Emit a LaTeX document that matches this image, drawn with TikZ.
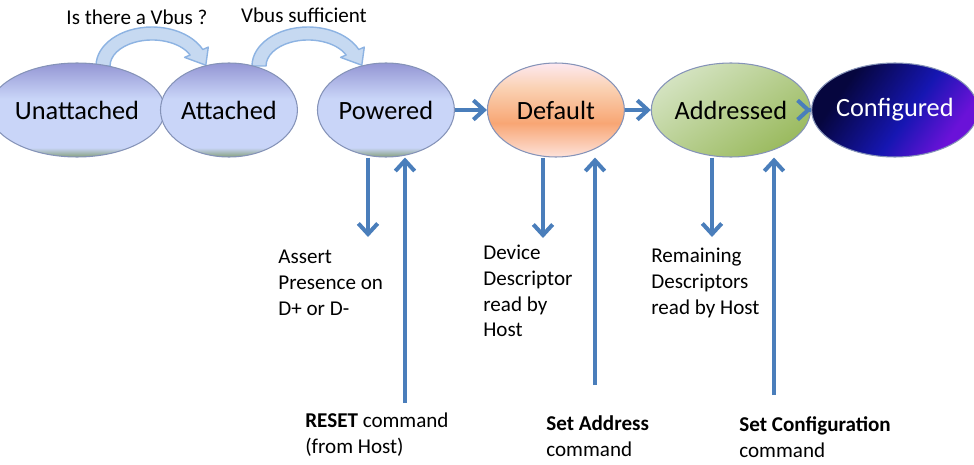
\documentclass[tikz,border=0pt]{standalone}
\usepackage{fontspec}
\setmainfont{Carlito}
\usetikzlibrary{shapes.geometric, positioning, arrows.meta}

\definecolor{flowblue}{HTML}{4A7EBB}
\definecolor{bendfill}{HTML}{C6D9F1}
\definecolor{bendline}{HTML}{8DB3E2}
\definecolor{stline}{HTML}{8593B8}
\definecolor{sttop}{HTML}{9496D4}
\definecolor{stmid}{HTML}{C9D5F8}
\definecolor{stbottom}{HTML}{86A07E}
\definecolor{dftop}{HTML}{FDE8F0}
\definecolor{dfupper}{HTML}{FAD2B4}
\definecolor{dfmid}{HTML}{F8A674}
\definecolor{dfbottom}{HTML}{FDE2DA}
\definecolor{adlight}{HTML}{D4E3C1}
\definecolor{addark}{HTML}{9ABA5E}
\definecolor{cfdark}{HTML}{06063E}
\definecolor{cfblue}{HTML}{1616B2}
\definecolor{cfpurple}{HTML}{6A12D8}

\pgfdeclareverticalshading{bluestate}{100bp}{color(0bp)=(stbottom); color(25bp)=(stbottom);
  color(30bp)=(stmid); color(56bp)=(stmid); color(75bp)=(sttop); color(100bp)=(sttop)}
\pgfdeclareverticalshading{defaultstate}{100bp}{color(0bp)=(dfbottom); color(25bp)=(dfbottom);
  color(43bp)=(dfmid); color(62bp)=(dfupper); color(75bp)=(dftop); color(100bp)=(dftop)}
\pgfdeclarehorizontalshading{confstate}{100bp}{color(0bp)=(cfdark); color(30bp)=(cfdark);
  color(55bp)=(cfblue); color(72bp)=(cfpurple); color(100bp)=(cfpurple)}

\tikzset{
  usbstate/.style={ellipse, draw=stline, line width=0.6pt, inner sep=0pt,
    minimum width=2.74cm, minimum height=1.88cm, font=\fontsize{15}{18}\selectfont},
  note/.style={align=left, inner sep=0pt, font=\fontsize{12}{14.7}\selectfont},
  flow/.style={draw=flowblue, line width=2.3pt, -{Straight Barb[length=6pt,width=11pt]}},
  bendarrow/.style={fill=bendfill, draw=bendline, line width=0.8pt, line join=round}
}

\begin{document}
\begin{tikzpicture}[x=0.02cm, y=0.02cm, on grid]
  \useasboundingbox (0,0) rectangle (974,464);

  % curved arrows over the first states
  \foreach \dx in {0,156}
    \filldraw[bendarrow, shift={(\dx,0)}] (96,398)
      arc[start angle=180, end angle=25, x radius=56, y radius=39]
      -- (208.3,416.9) -- (205.8,398.8) -- (184.6,406.6) -- (190.1,409.0)
      arc[start angle=25, end angle=180, x radius=42, y radius=26] -- cycle;

  \node[usbstate, shading=bluestate] (unatt) at (77,354) {Unattached};
  \node[usbstate, shading=bluestate] (att) [right=3.04cm of unatt] {Attached};
  \node[usbstate, shading=bluestate] (pow) [right=3.14cm of att] {Powered};
  \node[usbstate, shading=defaultstate] (def) [right=3.4cm of pow] {Default};
  \node[usbstate, top color=adlight, bottom color=addark, shading angle=35] (addr) [right=3.5cm of def] {Addressed};
  \node[usbstate, shading=confstate, shading angle=-35, text=white] (conf) [right=3.28cm of addr] {Configured};

  \node[note] (vbusq) at (137,447) {Is there a Vbus ?};
  \node[note] (vbusok) at (304,449) {Vbus sufficient};

  \node[note, anchor=west] (assert) at (278,181) {Assert\\Presence on\\D+ or D-};
  \node[note, anchor=west] (devdesc) at (483,173) {Device\\Descriptor\\read by\\Host};
  \node[note, anchor=west] (remdesc) at (651,181) {Remaining\\Descriptors\\read by Host};
  \node[note, anchor=west] (reset) at (305,29) {\textbf{RESET} command\\(from Host)};
  \node[note, anchor=west] (setaddr) at (546,28) {\textbf{Set Address}\\command};
  \node[note, anchor=west] (setconf) at (739,27) {\textbf{Set Configuration}\\command};

  \coordinate (assertTip) at (368,227);
  \coordinate (resetFoot) at (405,61);
  \coordinate (devTip) at (543,226);
  \coordinate (addrFoot) at (595,79);
  \coordinate (remTip) at (712,227);
  \coordinate (confFoot) at (774,69);

  \path[every edge/.style=flow]
  (pow) edge (def)
  (def) edge (addr)
  (addr) edge (conf)
  (pow.south -| assertTip) edge (assertTip)
    (resetFoot) edge (pow.south -| resetFoot)
  (def.south -| devTip) edge (devTip)
    (addrFoot) edge (def.south -| addrFoot)
  (addr.south -| remTip) edge (remTip)
    (confFoot) edge (addr.south -| confFoot);
\end{tikzpicture}
\end{document}
